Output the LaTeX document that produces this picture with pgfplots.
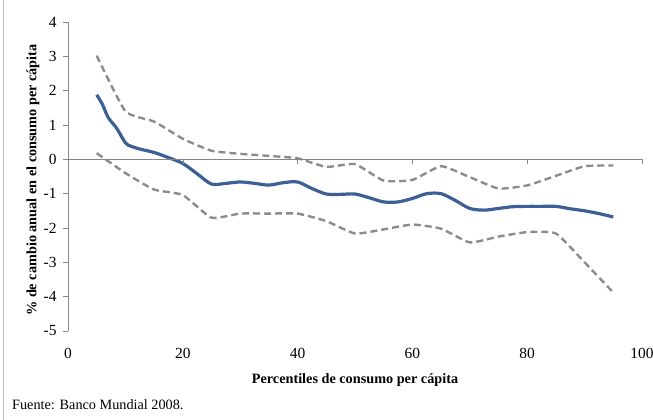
\documentclass[border=0pt]{standalone}
\usepackage{pgfplots}
\pgfplotsset{compat=1.18}
\usepackage{fontspec}
\setmainfont{Liberation Serif}
\definecolor{mainblue}{RGB}{60,95,150}
\definecolor{dgray}{RGB}{140,140,140}
\definecolor{axgray}{RGB}{134,134,134}
\definecolor{frgray}{RGB}{190,190,190}
\begin{document}
\begin{tikzpicture}
\useasboundingbox (-68bp,-89bp) rectangle (585bp,331bp);
\draw[frgray, line width=0.8bp] (-65bp,-89bp) -- (-65bp,331bp);
\begin{axis}[
  at={(0,0)}, anchor=south west,
  scale only axis, width=574bp, height=309bp,
  xmin=0, xmax=100, ymin=-5, ymax=4,
  axis x line=none,
  axis y line*=left,
  y axis line style={draw=axgray, line width=0.6bp, -},
  xtick={0,20,40,60,80,100},
  ytick={-5,-4,-3,-2,-1,0,1,2,3,4},
  yticklabels={-5,-4,-3,-2,-1,0,1,2,3,4},
  ytick style={draw=axgray, line width=0.6bp},
  tick align=outside, major tick length=5bp,
  tick label style={font=\fontsize{15.5}{18}\selectfont},
  /pgf/number format/assume math mode=true,
  yticklabel style={anchor=east, xshift=-3bp},
  clip=false,
]
\addplot[mainblue, line width=3.2bp, smooth, tension=0.5] coordinates {
(5,1.88) (6,1.6) (7,1.22) (8.5,0.9) (10,0.48) (11,0.38) (12.5,0.3) (15,0.2)
(17.5,0.05) (20,-0.12) (22.5,-0.42) (25,-0.72) (27.5,-0.7) (30,-0.66)
(32.5,-0.7) (35,-0.75) (37.5,-0.68) (40,-0.66) (42.5,-0.85) (45,-1.01)
(47.5,-1.02) (50,-1.01) (52.5,-1.12) (55,-1.24) (57.5,-1.24) (60,-1.14)
(62.5,-1.0) (65,-1.0) (67.5,-1.2) (70,-1.43) (72.5,-1.48) (75,-1.43)
(77.5,-1.38) (80,-1.37) (82.5,-1.37) (85,-1.37) (87.5,-1.44) (90,-1.5)
(92.5,-1.58) (95,-1.68)};
\addplot[dgray, line width=2.4bp, dash pattern=on 7bp off 4bp, smooth, tension=0.3] coordinates {
(5,3.02) (10,1.4) (15,1.1) (20,0.6) (25,0.25) (30,0.16) (35,0.1) (40,0.03)
(45,-0.22) (50,-0.14) (55,-0.62) (60,-0.6) (65,-0.2) (70,-0.52) (75,-0.85)
(80,-0.76) (85,-0.48) (90,-0.2) (95,-0.18)};
\addplot[dgray, line width=2.4bp, dash pattern=on 7bp off 4bp, smooth, tension=0.3] coordinates {
(5,0.18) (10,-0.4) (15,-0.88) (20,-1.04) (25,-1.7) (30,-1.58) (35,-1.58)
(40,-1.58) (45,-1.8) (50,-2.16) (55,-2.04) (60,-1.9) (65,-2.02) (70,-2.42)
(75,-2.25) (80,-2.12) (85,-2.16) (90,-3.0) (95,-3.88)};
\draw[axgray, line width=0.6bp] (axis cs:0,0) -- (axis cs:100,0);
\pgfplotsinvokeforeach{20,40,60,80,100}{
  \draw[axgray, line width=0.6bp] (axis cs:#1,0) -- ([yshift=-5bp]axis cs:#1,0);
}
\pgfplotsinvokeforeach{0,20,40,60,80,100}{
  \node[font=\fontsize{15.5}{18}\selectfont, yshift=-22bp] at (axis cs:#1,-5) {#1};
}
\end{axis}
\node[font=\bfseries\fontsize{14.3}{17}\selectfont] at (287bp,-49bp) {Percentiles de consumo per cápita};
\node[font=\bfseries\fontsize{14.3}{17}\selectfont, rotate=90] at (-35bp,151bp) {\% de cambio anual en el consumo per cápita};
\node[font=\fontsize{14.3}{17}\selectfont, anchor=west, inner sep=0pt] at (-56bp,-74bp) {Fuente: Banco Mundial 2008.};
\end{tikzpicture}
\end{document}
